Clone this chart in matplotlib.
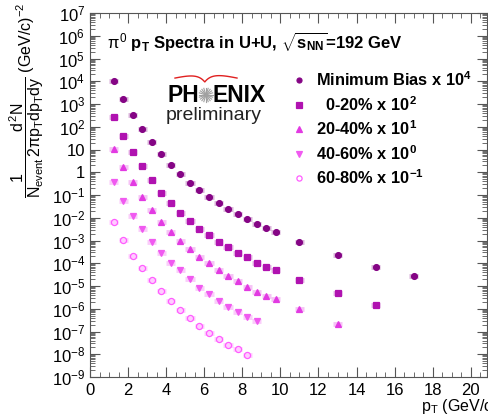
import matplotlib
matplotlib.use("Agg")
import matplotlib.pyplot as plt
import matplotlib.ticker as mticker
import numpy as np

plt.rcParams["font.family"] = ["Liberation Sans", "DejaVu Sans"]
plt.rcParams["mathtext.fontset"] = "custom"
plt.rcParams["mathtext.rm"] = "Liberation Sans"
plt.rcParams["mathtext.it"] = "Liberation Sans"
plt.rcParams["mathtext.bf"] = "Liberation Sans:bold"

# pi0 spectra in U+U, scaled yields
pt_mb = [1.25, 1.75, 2.25, 2.75, 3.25, 3.75, 4.25, 4.75, 5.25, 5.75, 6.25,
         6.75, 7.25, 7.75, 8.25, 8.75, 9.25, 9.75, 11, 13, 15, 17]
y_mb = [1.05e4, 1.66e3, 3.3e2, 79, 21, 6.2, 2.1, 0.81, 0.35, 0.166, 0.085,
        0.043, 0.025, 0.014, 8.7e-3, 5.1e-3, 3.5e-3, 2.4e-3, 8.9e-4, 2.3e-4,
        7.1e-5, 2.8e-5]

pt_c0 = pt_mb[:21]
y_c0 = [2.6e2, 39, 7.9, 1.95, 0.46, 0.126, 0.046, 0.0166, 7.2e-3, 3.3e-3,
        1.74e-3, 8.9e-4, 5.4e-4, 2.95e-4, 1.8e-4, 1.0e-4, 7.1e-5, 5.0e-5,
        1.8e-5, 4.8e-6, 1.45e-6]

pt_c1 = pt_mb[:20]
y_c1 = [10.5, 1.74, 0.36, 0.079, 0.022, 6.8e-3, 2.3e-3, 9.5e-4, 4.1e-4,
        1.95e-4, 1.0e-4, 5.0e-5, 2.75e-5, 1.66e-5, 9.3e-6, 5.6e-6, 3.6e-6,
        2.7e-6, 9.5e-7, 2.1e-7]

pt_c2 = pt_mb[:16]
y_c2 = [0.36, 0.056, 0.0123, 3.1e-3, 8.5e-4, 2.95e-4, 1.05e-4, 5.0e-5,
        2.05e-5, 8.5e-6, 4.3e-6, 2.3e-6, 1.23e-6, 7.4e-7, 4.5e-7, 2.9e-7]

pt_c3 = pt_mb[:15]
y_c3 = [6.3e-3, 1.05e-3, 2.1e-4, 6.0e-5, 1.8e-5, 6.0e-6, 2.2e-6, 8.9e-7,
        4.1e-7, 1.8e-7, 8.3e-8, 4.7e-8, 2.6e-8, 1.7e-8, 9.3e-9]

labels = [r"Minimum Bias x 10$^{\mathbf{4}}$", r"  0-20% x 10$^{\mathbf{2}}$",
          r"20-40% x 10$^{\mathbf{1}}$", r"40-60% x 10$^{\mathbf{0}}$",
          r"60-80% x 10$^{\mathbf{-1}}$"]

series = [
    (pt_mb, y_mb, "o", "#850585", True, 4.2),
    (pt_c0, y_c0, "s", "#B012B0", True, 4.4),
    (pt_c1, y_c1, "^", "#E23AE2", True, 4.6),
    (pt_c2, y_c2, "v", "#F05AF0", True, 4.6),
    (pt_c3, y_c3, "o", "#FF5CFF", False, 4.4),
]

W, H = 489, 416
fig = plt.figure(figsize=(W / 100, H / 100), dpi=100)
ax = fig.add_axes([90 / W, 1 - 377 / H, 397 / W, 364 / H])

for (x, y, m, c, filled, ms), lab in zip(series, labels):
    x = np.array(x)
    y = np.array(y)
    ax.errorbar(x, y, xerr=0.24, fmt="none", ecolor=c, elinewidth=3.5,
                alpha=0.3, capsize=0)
    ax.plot(x, y, ls="none", marker=m, ms=ms, color=c,
            mfc=c if filled else "none", mew=0.9)

ax.set_yscale("log")
ax.set_xlim(0, 20.85)
ax.set_ylim(1e-9, 1e7)

ax.xaxis.set_major_locator(mticker.MultipleLocator(2))
ax.xaxis.set_minor_locator(mticker.MultipleLocator(0.5))
ax.yaxis.set_major_locator(mticker.LogLocator(base=10, numticks=30))
ax.yaxis.set_minor_locator(mticker.LogLocator(base=10, subs=np.arange(2, 10), numticks=30))


def ylab(v, pos):
    n = int(round(np.log10(v)))
    if n == 0:
        return "1"
    if n == 1:
        return "10"
    return r"10$^{%d}$" % n


ax.yaxis.set_major_formatter(mticker.FuncFormatter(ylab))
ax.yaxis.set_minor_formatter(mticker.NullFormatter())
ax.tick_params(which="both", direction="in", top=True, right=True,
               labelsize=12, color="#555555")
ax.tick_params(which="major", length=7, width=0.8)
ax.tick_params(which="minor", length=3.5, width=0.6)
ax.tick_params(axis="x", pad=4)
for s in ax.spines.values():
    s.set_color("#555555")
    s.set_linewidth(0.8)

ax.set_ylabel(r"$\dfrac{1}{N_{event}}\dfrac{d^2N}{2\pi p_T dp_T dy}$ (GeV/c)$^{-2}$",
              fontsize=11.5)
ax.yaxis.set_label_coords(-0.11, 0.76)
fig.text(421 / W, 1 - 406 / H, r"p$_{T}$ (GeV/c)", fontsize=11.5, va="center")

# title inside frame
fig.text(107 / W, 1 - 42 / H,
         r"$\pi^{0}$ p$_{\mathbf{T}}$ Spectra in U+U, $\sqrt{\mathbf{s_{NN}}}$=192 GeV",
         fontsize=12, fontweight="bold", va="center")

# legend
for i, ((x, y, m, c, filled, ms), lab) in enumerate(zip(series, labels)):
    yy = 1 - (80 + 24.5 * i) / H
    fig.lines.append(plt.Line2D([299 / W], [yy], marker=m, ms=ms * 0.85, color=c,
                                mfc=c if filled else "none", mew=0.9, ls="none",
                                transform=fig.transFigure))
    fig.text(316 / W, yy, lab, fontsize=11.8, fontweight="bold", va="center")

# PHENIX logo
fig.text(199 / W, 1 - 95 / H, "PH", fontsize=16.5, fontweight="bold",
         ha="right", va="center")
fig.text(213 / W, 1 - 95 / H, "ENIX", fontsize=16.5, fontweight="bold",
         ha="left", va="center")
cx, cy = 206, 95
for a in np.linspace(0, np.pi, 10, endpoint=False):
    dx, dy = 7 * np.cos(a), 7 * np.sin(a)
    fig.lines.append(plt.Line2D([(cx - dx) / W, (cx + dx) / W],
                                [1 - (cy - dy) / H, 1 - (cy + dy) / H],
                                color="#a0a0a0", lw=0.8, transform=fig.transFigure))
t = np.linspace(0, 1, 80)
arc_x = 175 + 62 * t
arc_y = 78 - 4 * np.sin(np.pi * t) + 8 * np.exp(-np.abs(t - 0.48) / 0.1)
fig.lines.append(plt.Line2D(arc_x / W, 1 - arc_y / H, color="#e02020", lw=1.0,
                            transform=fig.transFigure))
fig.text(214 / W, 1 - 116 / H, "preliminary", fontsize=14, ha="center",
         va="center", color="#222222")

fig.savefig("out.png", dpi=100)
